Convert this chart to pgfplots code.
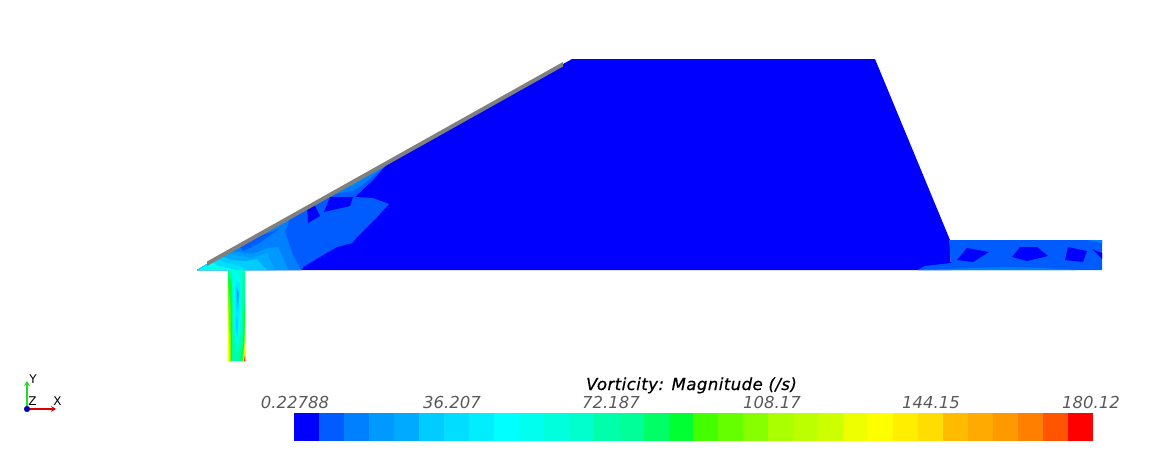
\documentclass[border=0pt]{standalone}
\usepackage{fontspec}
\setmainfont{DejaVu Sans}
\newfontfamily\titlefont[ItalicFeatures={FakeBold=0.6},LetterSpace=2.8]{DejaVu Sans}
\usepackage{pgfplots}
\pgfplotsset{compat=1.18}
\usetikzlibrary{arrows.meta}

% colour bar steps
\definecolor{c1}{HTML}{0000FF}\definecolor{c2}{HTML}{005CFF}\definecolor{c3}{HTML}{0080FF}\definecolor{c4}{HTML}{0099FF}
\definecolor{c5}{HTML}{00AAFF}\definecolor{c6}{HTML}{00CCFF}\definecolor{c7}{HTML}{00DDFF}\definecolor{c8}{HTML}{00EEFF}
\definecolor{c9}{HTML}{00FFFF}\definecolor{c10}{HTML}{00FFEE}\definecolor{c11}{HTML}{00FFDD}\definecolor{c12}{HTML}{00FFCC}
\definecolor{c13}{HTML}{00FFAA}\definecolor{c14}{HTML}{00FF99}\definecolor{c15}{HTML}{00FF66}\definecolor{c16}{HTML}{00FF33}
\definecolor{c17}{HTML}{44FF00}\definecolor{c18}{HTML}{66FF00}\definecolor{c19}{HTML}{88FF00}\definecolor{c20}{HTML}{AAFF00}
\definecolor{c21}{HTML}{BBFF00}\definecolor{c22}{HTML}{CCFF00}\definecolor{c23}{HTML}{EEFF00}\definecolor{c24}{HTML}{FFFF00}
\definecolor{c25}{HTML}{FFEE00}\definecolor{c26}{HTML}{FFDD00}\definecolor{c27}{HTML}{FFBB00}\definecolor{c28}{HTML}{FFAA00}
\definecolor{c29}{HTML}{FF9900}\definecolor{c30}{HTML}{FF8000}\definecolor{c31}{HTML}{FF5500}\definecolor{c32}{HTML}{FF0000}
\definecolor{wallgray}{HTML}{808080}
\definecolor{triadgreen}{HTML}{22DD22}
\definecolor{triadred}{HTML}{DD0000}
\definecolor{triadblue}{HTML}{0000AA}

\newcommand{\poly}[2]{\addplot[fill=#1,draw=none] coordinates {#2} -- cycle;}
\newcommand{\cell}[2]{\addplot[fill=c#1,draw=none] coordinates {(#2,413) (1093,413) (1093,441) (#2,441)} -- cycle;}
\newcommand{\tlab}[2]{\node[anchor=base,text=black!65] at (axis cs:#1,408) {\fontsize{16.5}{17}\selectfont\itshape #2};}

\begin{document}
\begin{tikzpicture}
\useasboundingbox (0,0) rectangle (1160pt,463pt);
\begin{axis}[
  at={(0,0)}, anchor=south west,
  scale only axis, width=1160pt, height=463pt,
  xmin=0, xmax=1160, ymin=0, ymax=463, y dir=reverse,
  hide axis, no markers,
]
% main body
\poly{c1}{(197,270) (572,59) (875,59) (950,240) (951,270)}
% outlet channel
\poly{c2}{(949,240) (1102,240) (1102,270) (918,270) (925,266) (951,263)}
\poly{c3}{(918,270) (958,268.5) (1010,267) (1067,269) (1075,270)}
\poly{c3}{(1087,240) (1102,240) (1102,243)}
\poly{c1}{(967,248) (989,252) (973,262) (957,260)}
\poly{c1}{(1020,247) (1037,247) (1048,256) (1027,261) (1012,257)}
\poly{c1}{(1068,247) (1087,251) (1083,262) (1065,260)}
\poly{c1}{(1092,249) (1102,253) (1102,259)}
% wall region
\poly{c2}{(197,270) (393,159.7) (388,163) (373,180) (355,197) (373,198) (389,204) (377,217) (357,237) (352,243) (337,247) (323,255) (303,267) (302,270)}
\poly{c1}{(307,207) (314,204) (320,216) (308,223)}
\poly{c1}{(330,197) (353,197) (350,206) (324,212)}
\poly{c3}{(393,159.7) (362,185) (353,191) (340,193) (323,198) (309,207)}
\poly{c4}{(372,171.5) (362,179) (353,185) (344,187) (335,192.3)}
\poly{c3}{(197,270) (290,218) (285,232) (293,255) (301,270)}
\poly{c2}{(240,247) (243,251) (258,244) (278,230) (262,235)}
\poly{c4}{(197,270) (228,252) (238,252) (253,254) (268,248) (278,247) (284,260) (288,270)}
\poly{c5}{(197,270) (226,253) (236,255) (252,258) (267,253) (271,262) (275,270)}
\poly{c6}{(197,270) (220,256) (232,260) (245,261) (257,259) (262,265) (267,270)}
\poly{c7}{(197,270) (216,258) (226,263) (238,265) (248,270)}
\poly{c9}{(199,270) (212,262) (218,266) (228,268) (236,270)}
\poly{c11}{(202,270) (207,266) (213,268) (222,268.5) (232,270)}
% inlet pipe
\poly{c13}{(228,270) (245,270) (245,361) (228,361)}
\poly{c11}{(231,270) (243,270) (242,276) (241,330) (237,352) (233,325) (232,280)}
\poly{c10}{(234,272) (240,278) (240.5,320) (237,345) (234,325) (234,290)}
\poly{c8}{(235,278) (240,284) (239.5,312) (237.5,340) (235,328) (235,300)}
\poly{c7}{(236,284) (239.5,292) (238.5,310) (236.5,312)}
\poly{c7}{(236,315) (238,318) (237.5,337) (235.5,328)}
\poly{c6}{(236.3,286) (239.2,293) (238.2,307) (236.8,308)}
\poly{c6}{(236.3,318) (237.7,321) (237.3,334) (236,327)}
\poly{c4}{(237,289) (238.6,295) (237.5,303)}
% left wall of the pipe
\poly{c14}{(228,271) (232,278) (233,361) (228,361)}
\poly{c16}{(228,273) (231.5,285) (232,361) (228,361)}
\poly{c18}{(228,280) (230.5,305) (231,361) (228,361)}
\poly{c21}{(228,295) (229.6,335) (230,361) (228,361)}
\poly{c24}{(228,318) (229,345) (229.3,361) (228,361)}
% right wall of the pipe
\poly{c14}{(245,274) (242.5,285) (242,340) (238.5,361) (245,361)}
\poly{c16}{(245,300) (243.7,320) (243,345) (240.5,361) (245,361)}
\poly{c20}{(245,322) (244.3,342) (242.5,361) (245,361)}
\poly{c24}{(245,340) (243.5,361) (245,361)}
\poly{c28}{(245,350) (244,361) (245,361)}
\poly{c32}{(245,356) (244.2,361) (245,361)}
% grey wall strip
\poly{wallgray}{(207,261.5) (563,62) (563,66.5) (207,266)}
% triad
\addplot[triadgreen,line width=1.3pt,-{Stealth[length=5pt,width=6pt]}] coordinates {(27,409) (27,381)};
\addplot[triadred,line width=1.3pt,-{Stealth[length=5pt,width=6pt]}] coordinates {(27,409) (56,409)};
\addplot[only marks,mark=*,mark size=2.8pt,mark options={fill=triadblue,draw=triadblue}] coordinates {(27,409)};
\node[anchor=base,font=\fontsize{12}{12}\selectfont] at (axis cs:33,383) {Y};
\node[anchor=base,font=\fontsize{12}{12}\selectfont] at (axis cs:32.5,405) {Z};
\node[anchor=base,font=\fontsize{12}{12}\selectfont] at (axis cs:57.5,405) {X};
% colour bar
\cell{1}{294}\cell{2}{319}\cell{3}{344}\cell{4}{369}\cell{5}{394}\cell{6}{419}\cell{7}{444}\cell{8}{469}
\cell{9}{494}\cell{10}{519}\cell{11}{544}\cell{12}{569}\cell{13}{594}\cell{14}{619}\cell{15}{644}\cell{16}{669}
\cell{17}{693}\cell{18}{718}\cell{19}{743}\cell{20}{768}\cell{21}{793}\cell{22}{818}\cell{23}{843}\cell{24}{868}
\cell{25}{893}\cell{26}{918}\cell{27}{943}\cell{28}{968}\cell{29}{993}\cell{30}{1018}\cell{31}{1043}\cell{32}{1068}
\node[anchor=base] at (axis cs:691.5,390) {\fontsize{16.5}{17}\selectfont\titlefont\itshape Vorticity: Magnitude (/s)};
\tlab{295}{0.22788}
\tlab{452}{36.207}
\tlab{611}{72.187}
\tlab{772}{108.17}
\tlab{931}{144.15}
\tlab{1091}{180.12}
\end{axis}
\end{tikzpicture}
\end{document}
